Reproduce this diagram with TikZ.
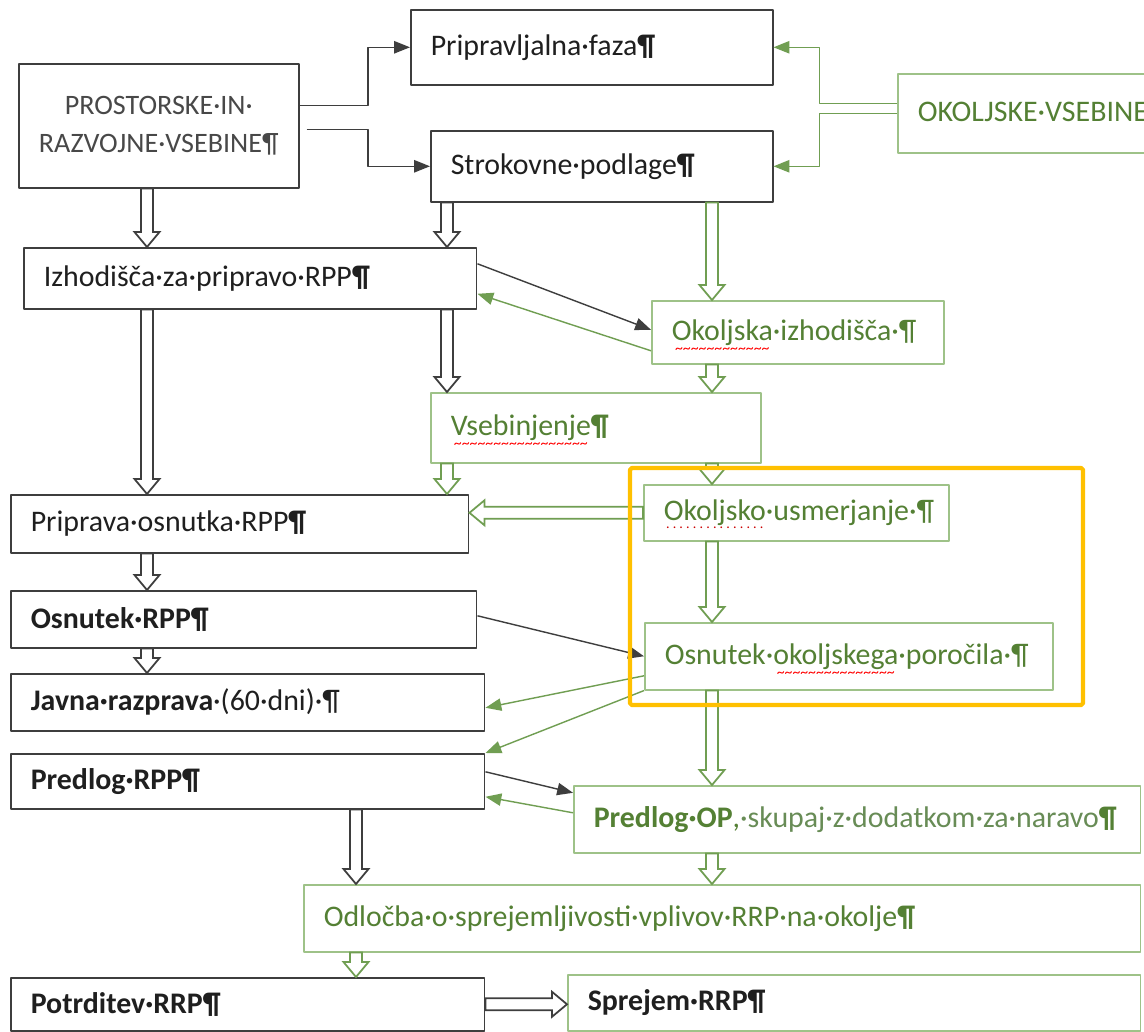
\documentclass[tikz,border=0pt]{standalone}
\usepackage{fontspec}
\setmainfont{Carlito}
\usetikzlibrary{arrows.meta,calc}
\definecolor{boxgray}{RGB}{62,62,62}
\definecolor{inkgray}{RGB}{72,72,72}
\definecolor{gline}{RGB}{158,194,136}
\definecolor{garrow}{RGB}{112,158,82}
\definecolor{gtext}{RGB}{84,128,52}
\definecolor{gsoft}{RGB}{104,140,86}
\definecolor{hlyellow}{RGB}{255,192,0}
\newcommand\wavy[1]{\setbox0\hbox{#1}\rlap{\raisebox{-7.5pt}[0pt][0pt]{\color{red}\hbox to \wd0{\fontsize{9}{9}\selectfont\cleaders\hbox{\char"7E}\hfill}}}#1}
\newcommand\dotty[1]{\setbox0\hbox{#1}\rlap{\raisebox{-4.5pt}[0pt][0pt]{\color{red!80!black}\hbox to \wd0{\fontsize{8}{8}\selectfont\cleaders\hbox{\kern0.9pt.\kern0.9pt}\hfill}}}#1}
\newcommand\pil{{\bfseries ¶}}
\newcommand{\hollowarrow}[3][boxgray]{%
  \coordinate (ha) at (#2);
  \coordinate (hz) at (#3);
  \coordinate (hb) at ($(hz)!0.3cm!(ha)$);
  \draw[hollow,draw=#1] ($(ha)!0.12cm!90:(hz)$) -- ($(hb)!0.12cm!-90:(ha)$) -- ($(hb)!0.25cm!-90:(ha)$)
    -- (hz) -- ($(hb)!0.25cm!90:(ha)$) -- ($(hb)!0.12cm!90:(ha)$) -- ($(ha)!0.12cm!-90:(hz)$) -- cycle;}
\begin{document}
\begin{tikzpicture}[x=0.02cm, y=-0.02cm, font=\fontsize{17}{20}\selectfont, line join=round,
  blk/.style={draw=boxgray, line width=0.9pt, anchor=north west, inner xsep=0.4cm, inner ysep=0pt, align=left, text=black!88},
  grn/.style={blk, draw=gline, text=gtext},
  pointer/.style={-{Triangle[length=9pt,width=7pt]}, line width=0.8pt, color=boxgray},
  gpointer/.style={pointer, color=garrow},
  hollow/.style={line width=1pt, fill=white, line join=miter}]
\path[use as bounding box, fill=white] (0,0) rectangle (1144,1032);
\clip (0,0) rectangle (1144,1032);
\coordinate (colA) at (147,0);
\coordinate (colB) at (447,0);
\coordinate (colC) at (712,0);
\coordinate (colD) at (356,0);

\node[blk, text width=4.8cm, minimum height=2.48cm, align=center, text=inkgray, font=\fontsize{16}{19}\selectfont] (prost) at (18,63) {PROSTORSKE·IN·\\[3pt]RAZVOJNE·VSEBINE¶};
\node[blk, text width=6.44cm, minimum height=1.5cm] (prep) at (410,9) {Pripravljalna·faza\pil};
\node[blk, text width=6.04cm, minimum height=1.42cm] (strok) at (430,130) {Strokovne·podlage\pil};
\node[grn, text width=4.66cm, minimum height=1.58cm] (okvseb) at (897,73) {OKOLJSKE·VSEBINE¶};
\node[blk, text width=8.26cm, minimum height=1.22cm] (izh) at (23,247) {Izhodišča·za·pripravo·RPP\pil};
\node[grn, text width=5.04cm, minimum height=1.26cm] (okizh) at (651,300) {\wavy{Okoljska}·izhodišča·¶};
\node[grn, text width=5.8cm, minimum height=1.4cm] (vseb) at (430,392) {\wavy{Vsebinjenje}\pil};
\node[blk, text width=8.36cm, minimum height=1.16cm] (prip) at (10,494) {Priprava·osnutka·RPP\pil};
\node[grn, text width=5.3cm, minimum height=1.12cm] (okusm) at (643,484) {\dotty{Okoljsko}·usmerjanje·¶};
\node[blk, text width=8.52cm, minimum height=1.14cm] (osnrpp) at (10,590) {\textbf{Osnutek·RPP¶}};
\node[grn, text width=7.36cm, minimum height=1.34cm] (osnop) at (644,622) {Osnutek·\wavy{okoljskega}·poročila·¶};
\node[blk, text width=8.68cm, minimum height=1.14cm] (javna) at (10,673) {\textbf{Javna·razprava}·(60·dni)·¶};
\node[blk, text width=8.68cm, minimum height=1.1cm] (predrpp) at (10,753) {\textbf{Predlog·RPP¶}};
\node[grn, text width=10.54cm, minimum height=1.34cm] (predop) at (573,785) {\textbf{Predlog·OP},\textcolor{gsoft}{·skupaj·z·dodatkom·za·naravo}\pil};
\node[grn, text width=15.94cm, minimum height=1.34cm] (odl) at (303,884) {Odločba·o·sprejemljivosti·vplivov·RRP·na·okolje\pil};
\node[blk, text width=8.68cm, minimum height=1.06cm] (potr) at (10,977) {\textbf{Potrditev·RRP¶}};
\node[grn, text width=10.66cm, minimum height=1.12cm, text=black!88] (sprej) at (567,974) {\textbf{Sprejem·RRP¶}};

\draw[pointer] ([yshift=0.4cm]prost.east) -| ([xshift=-0.84cm]prep.west) -- (prep.west);
\draw[pointer] ([xshift=0.14cm,yshift=-0.08cm]prost.east) -| ([xshift=-1.24cm]strok.west) -- (strok.west);
\draw[gpointer] ([yshift=0.19cm]okvseb.west) -| ([xshift=0.92cm]prep.east) -- (prep.east);
\draw[gpointer] (okvseb.west) -| ([xshift=0.92cm]strok.east) -- (strok.east);
\draw[pointer] ([yshift=0.29cm]izh.east) -- ([yshift=0.05cm]okizh.west);
\draw[gpointer] ([yshift=-0.37cm]okizh.west) -- ([yshift=-0.31cm]izh.east);
\draw[pointer] ([yshift=0.07cm]osnrpp.east) -- (osnop.west);
\draw[gpointer] ([yshift=-0.39cm]osnop.west) -- ([yshift=-0.11cm]javna.east);
\draw[gpointer] (osnop.south west) -- (predrpp.north east);
\draw[pointer] ([yshift=0.19cm]predrpp.east) -- ([yshift=0.53cm]predop.west);
\draw[gpointer] ([yshift=0.13cm]predop.west) -- ([yshift=-0.31cm]predrpp.east);

\foreach \s/\t/\c in {prost/izh/colA, strok/izh/colB, izh/prip/colA, izh/vseb/colB, prip/osnrpp/colA, osnrpp/javna/colA, predrpp/odl/colD}
  \hollowarrow{\s.south -| \c}{\t.north -| \c};
\foreach \s/\t/\c in {strok/okizh/colC, okizh/vseb/colC, vseb/okusm/colC, vseb/prip/colB, okusm/osnop/colC, osnop/predop/colC, predop/odl/colC, odl/potr/colD}
  \hollowarrow[garrow]{\s.south -| \c}{\t.north -| \c};
\hollowarrow[garrow]{okusm.west}{okusm.west -| prip.east}
\hollowarrow{potr.east}{potr.east -| sprej.west}

\draw[hlyellow, line width=2.4pt, rounded corners=1pt] (630,468) rectangle (1083,705);
\end{tikzpicture}
\end{document}
